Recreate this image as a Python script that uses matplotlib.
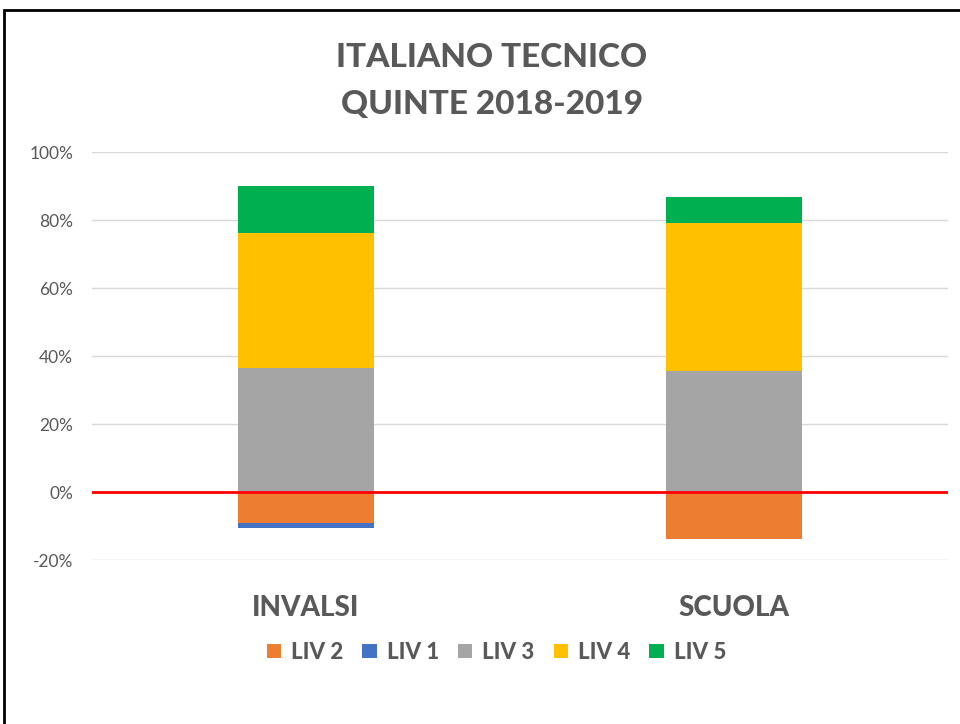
import matplotlib.pyplot as plt
from matplotlib.patches import Rectangle
from matplotlib.ticker import FuncFormatter
import numpy as np

categories = ['INVALSI', 'SCUOLA']
liv2 = [-9.1, -13.8]
liv1 = [-1.4, 0.0]
liv3 = [36.5, 35.6]
liv4 = [39.7, 43.6]
liv5 = [13.8, 7.6]

col2 = '#ED7D31'
col1 = '#4472C4'
col3 = '#A5A5A5'
col4 = '#FFC000'
col5 = '#00B050'
txt = '#595959'

plt.rcParams['font.family'] = ['Lato', 'DejaVu Sans']

fig = plt.figure(figsize=(9.6, 7.24), dpi=100)
ax = fig.add_axes([0.0958, 0.2265, 0.8917, 0.5635])

x = np.arange(len(categories))
w = 0.318

# negatives stack down from zero, positives stack up
ax.bar(x, liv2, w, color=col2, label='LIV 2', zorder=2)
ax.bar(x, liv1, w, bottom=liv2, color=col1, label='LIV 1', zorder=2)
ax.bar(x, liv3, w, color=col3, label='LIV 3', zorder=2)
ax.bar(x, liv4, w, bottom=liv3, color=col4, label='LIV 4', zorder=2)
b45 = [a + b for a, b in zip(liv3, liv4)]
ax.bar(x, liv5, w, bottom=b45, color=col5, label='LIV 5', zorder=2)

ax.axhline(0, color='#FF0000', lw=2, zorder=3)

ax.set_xlim(-0.5, 1.5)
ax.set_ylim(-20, 100)
ax.set_yticks(range(-20, 101, 20))
ax.yaxis.set_major_formatter(FuncFormatter(lambda v, p: f'{int(v)}%'))
ax.grid(axis='y', color='#D9D9D9', lw=1, zorder=0)
ax.set_axisbelow(True)
for s in ax.spines.values():
    s.set_visible(False)
ax.tick_params(axis='y', length=0, labelsize=12.5, labelcolor=txt, pad=13.5)
ax.tick_params(axis='x', length=0, labelsize=20, labelcolor=txt, pad=25)
ax.set_xticks(x)
ax.set_xticklabels(categories, fontweight='black')

fig.text(0.5125, 0.92, 'ITALIANO TECNICO', ha='center', va='center',
         fontsize=24, fontweight='black', color=txt)
fig.text(0.5125, 0.855, 'QUINTE 2018-2019', ha='center', va='center',
         fontsize=24, fontweight='black', color=txt)

leg = fig.legend(loc='center', bbox_to_anchor=(0.517, 0.099), ncol=5,
                 frameon=False, handlelength=0.65, handleheight=0.65,
                 columnspacing=0.85, handletextpad=0.45,
                 prop={'weight': 'black', 'size': 16})
for t in leg.get_texts():
    t.set_color(txt)

fig.patches.append(Rectangle((4 / 960, -0.1), 1.2, 1 - 10 / 724 + 0.1,
                             transform=fig.transFigure, fill=False,
                             edgecolor='black', lw=2))

fig.savefig('out.png', dpi=100)
